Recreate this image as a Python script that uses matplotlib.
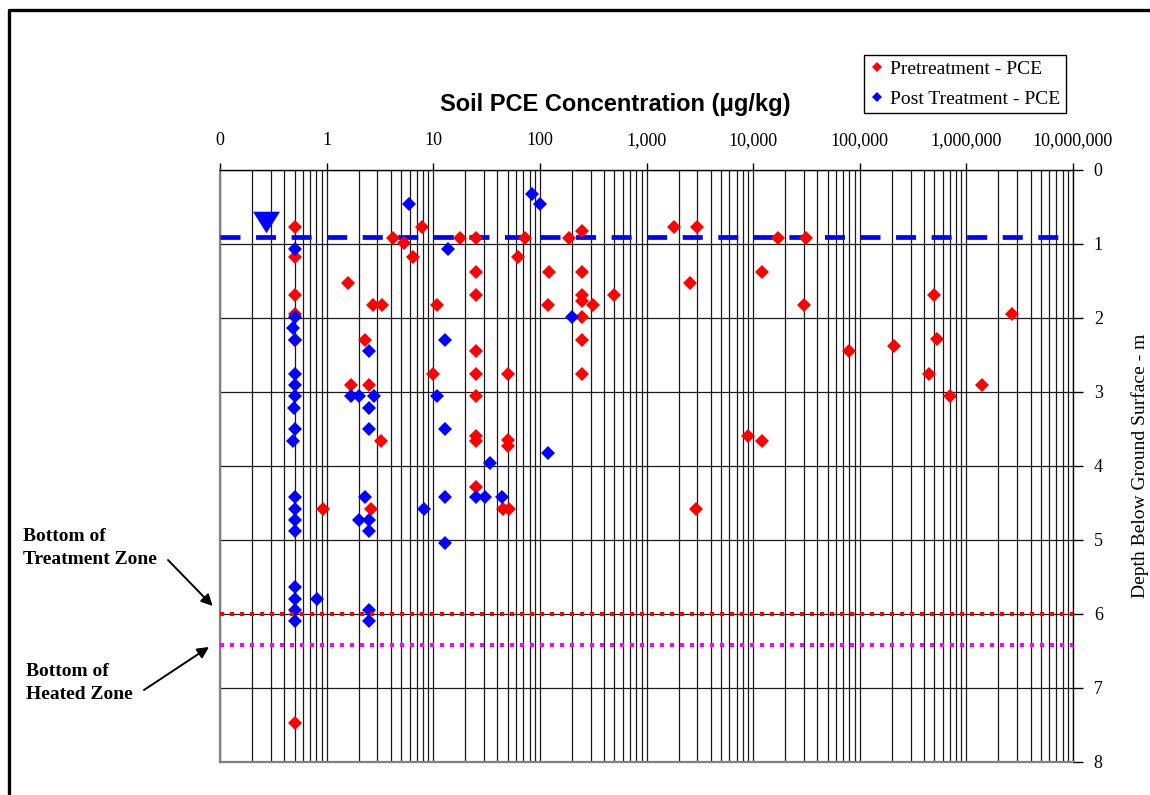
import matplotlib
matplotlib.use('Agg')
import matplotlib.pyplot as plt
import numpy as np
from matplotlib.ticker import LogLocator, NullFormatter
from matplotlib.lines import Line2D

plt.rcParams['lines.scale_dashes'] = False

# ---------------- data ----------------
pre_conc = [0.5, 0.5, 0.5, 0.5, 0.5, 0.5,
            1.6, 2.73, 3.3, 2.3,
            4.15, 5.3, 7.8, 6.5, 10.8, 17.9,
            25, 25, 25, 25, 25, 25, 25, 25, 25,
            10, 1.68, 2.5, 3.27, 0.93, 2.58,
            72, 188, 250, 250, 250, 250, 250, 250, 250,
            62.5, 123, 119, 316, 500,
            1800, 3000, 2570, 12000, 12000, 17100,
            50, 50, 50, 45, 51,
            9000, 2900, 31000, 30000,
            500000, 2.69e6, 80000, 209000, 526000, 447000, 1.4e6, 705000]
pre_depth = [0.77, 1.17, 1.69, 1.95, 2.30, 7.47,
             1.53, 1.83, 1.83, 2.30,
             0.92, 0.99, 0.77, 1.17, 1.83, 0.92,
             0.92, 1.38, 1.69, 2.44, 2.75, 3.05, 3.60, 3.66, 4.29,
             2.75, 2.90, 2.90, 3.66, 4.58, 4.58,
             0.92, 0.92, 0.83, 1.38, 1.69, 1.77, 1.99, 2.30, 2.75,
             1.17, 1.38, 1.83, 1.83, 1.69,
             0.77, 0.77, 1.53, 1.38, 3.66, 0.92,
             2.75, 3.65, 3.73, 4.58, 4.58,
             3.60, 4.58, 0.92, 1.83,
             1.69, 1.95, 2.44, 2.38, 2.29, 2.75, 2.90, 3.05]

post_conc = [0.5, 0.5, 0.486, 0.5, 0.5, 0.5, 0.5, 0.49, 0.5, 0.48,
             0.5, 0.5, 0.5, 0.5, 0.5, 0.5, 0.5, 0.5,
             5.95, 13.9, 2.48, 12.9, 12.9, 12.9, 12.9,
             85, 100, 199,
             1.69, 2.02, 2.79,
             2.5, 2.5, 2.5, 2.5, 2.5, 2.5,
             10.9, 34, 2.29, 8.2, 2.0, 25, 30.7, 44, 119, 0.82]
post_depth = [1.07, 1.98, 2.14, 2.30, 2.75, 2.90, 3.05, 3.21, 3.50, 3.66,
              4.42, 4.58, 4.73, 4.88, 5.64, 5.80, 5.94, 6.10,
              0.46, 1.07, 2.44, 2.30, 3.50, 4.42, 5.04,
              0.32, 0.46, 1.99,
              3.05, 3.05, 3.05,
              3.21, 3.50, 4.73, 4.88, 5.94, 6.10,
              3.05, 3.96, 4.42, 4.58, 4.73, 4.42, 4.42, 4.42, 3.82, 5.80]

x_tick_values = [0.1, 1, 10, 100, 1000, 1e4, 1e5, 1e6, 1e7]
x_tick_labels = ['0', '1', '10', '100', '1,000', '10,000', '100,000',
                 '1,000,000', '10,000,000']
y_tick_values = [0, 1, 2, 3, 4, 5, 6, 7, 8]

water_table_depth = 0.9
water_table_marker_conc = 0.27
treatment_zone_bottom = 6.0
heated_zone_bottom = 6.42

title = 'Soil PCE Concentration (\u03bcg/kg)'
ylabel = 'Depth Below Ground Surface - m'
labels = ['Pretreatment - PCE', 'Post Treatment - PCE']

# ---------------- figure ----------------
W, H = 1150, 795
fig = plt.figure(figsize=(W / 100, H / 100), dpi=100)
ax = fig.add_axes([220 / W, 1 - 762 / H, 853 / W, 592 / H])

serif = 'Liberation Serif'

ax.set_xscale('log')
ax.set_xlim(0.1, 1e7)
ax.set_ylim(8, 0)

ax.xaxis.tick_top()
ax.set_xticks(x_tick_values)
ax.set_xticklabels(x_tick_labels, fontfamily=serif, fontsize=13)
ax.xaxis.set_minor_locator(LogLocator(base=10, subs=np.arange(2, 10), numticks=100))
ax.xaxis.set_minor_formatter(NullFormatter())
ax.tick_params(axis='x', which='major', direction='out', length=5, width=1,
               pad=10, top=True, bottom=False, labeltop=True, labelbottom=False)
ax.tick_params(axis='x', which='minor', length=0, top=False, bottom=False)

ax.yaxis.tick_right()
ax.set_yticks(y_tick_values)
ax.set_yticklabels([str(v) for v in y_tick_values], fontfamily=serif, fontsize=13)
ax.tick_params(axis='y', which='major', direction='out', length=7, width=1,
               pad=8, right=True, left=False)
ax.yaxis.set_label_position('right')
ax.set_ylabel(ylabel, fontfamily=serif, fontsize=14, labelpad=20)

ax.grid(True, which='both', axis='x', color='#1a1a1a', lw=0.9)
ax.grid(True, which='major', axis='y', color='#1a1a1a', lw=0.9)
ax.set_axisbelow(True)

for s in ['left', 'bottom']:
    ax.spines[s].set_color('#808080')
    ax.spines[s].set_linewidth(1.6)
for s in ['top', 'right']:
    ax.spines[s].set_color('black')
    ax.spines[s].set_linewidth(1.0)

# water table
ax.axhline(water_table_depth, color='#0000ff', lw=3.4, ls=(0, (14.4, 11.2)),
           dash_capstyle='butt', zorder=3)
tri = [(-1, 0.8), (1, 0.8), (0, -0.8)]
ax.plot([water_table_marker_conc], [water_table_depth - 0.2], marker=tri,
        ms=19.4, color='#0000ff', mew=0, ls='none', zorder=4, clip_on=False)

# data
h1, = ax.plot(pre_conc, pre_depth, 'D', color='#ff0000', ms=7.2, mew=0,
              ls='none', zorder=5, label=labels[0])
h2, = ax.plot(post_conc, post_depth, 'D', color='#0000ff', ms=7.2, mew=0,
              ls='none', zorder=6, label=labels[1])

# zone lines
ax.axhline(treatment_zone_bottom, color='#ff0000', lw=2.9, ls=(0, (2.9, 4.3)),
           dash_capstyle='butt', zorder=7)
ax.axhline(heated_zone_bottom, color='#ff00ff', lw=2.9, ls=(0, (2.9, 4.3)),
           dash_capstyle='butt', zorder=7)

# title
fig.text(615 / W, 1 - 111 / H, title, ha='center', va='baseline',
         fontsize=17, fontweight='bold', fontfamily='Liberation Sans')

# legend
leg = ax.legend(handles=[h1, h2], loc='upper right',
                bbox_to_anchor=(1066 / W, 1 - 55 / H), bbox_transform=fig.transFigure,
                prop={'family': serif, 'size': 14}, frameon=True, fancybox=False,
                edgecolor='black', framealpha=1, markerscale=0.7,
                handlelength=0.7, handletextpad=0.35, borderpad=0.28,
                labelspacing=0.62, borderaxespad=0)
leg.get_frame().set_linewidth(1.0)

# annotations
tb = dict(fontsize=14, fontweight='bold', fontfamily=serif, va='baseline', ha='left')
fig.text(23 / W, 1 - 540.7 / H, 'Bottom of', **tb)
fig.text(23 / W, 1 - 564 / H, 'Treatment Zone', **tb)
fig.text(26 / W, 1 - 676 / H, 'Bottom of', **tb)
fig.text(26 / W, 1 - 699.3 / H, 'Heated Zone', **tb)

ap = dict(arrowstyle='-|>', color='black', lw=1.4, mutation_scale=17,
          shrinkA=0, shrinkB=0)
ax.annotate('', xy=(212.7, H - 606), xytext=(168, H - 560),
            xycoords='figure pixels', textcoords='figure pixels',
            arrowprops=ap, annotation_clip=False)
ax.annotate('', xy=(209, H - 647), xytext=(144, H - 690),
            xycoords='figure pixels', textcoords='figure pixels',
            arrowprops=ap, annotation_clip=False)

# figure border (top and left)
fig.add_artist(Line2D([9 / W, 9 / W, 1.0], [0.0, 1 - 10 / H, 1 - 10 / H],
                      transform=fig.transFigure, color='black', lw=2.4))

fig.savefig('out.png', dpi=100)
